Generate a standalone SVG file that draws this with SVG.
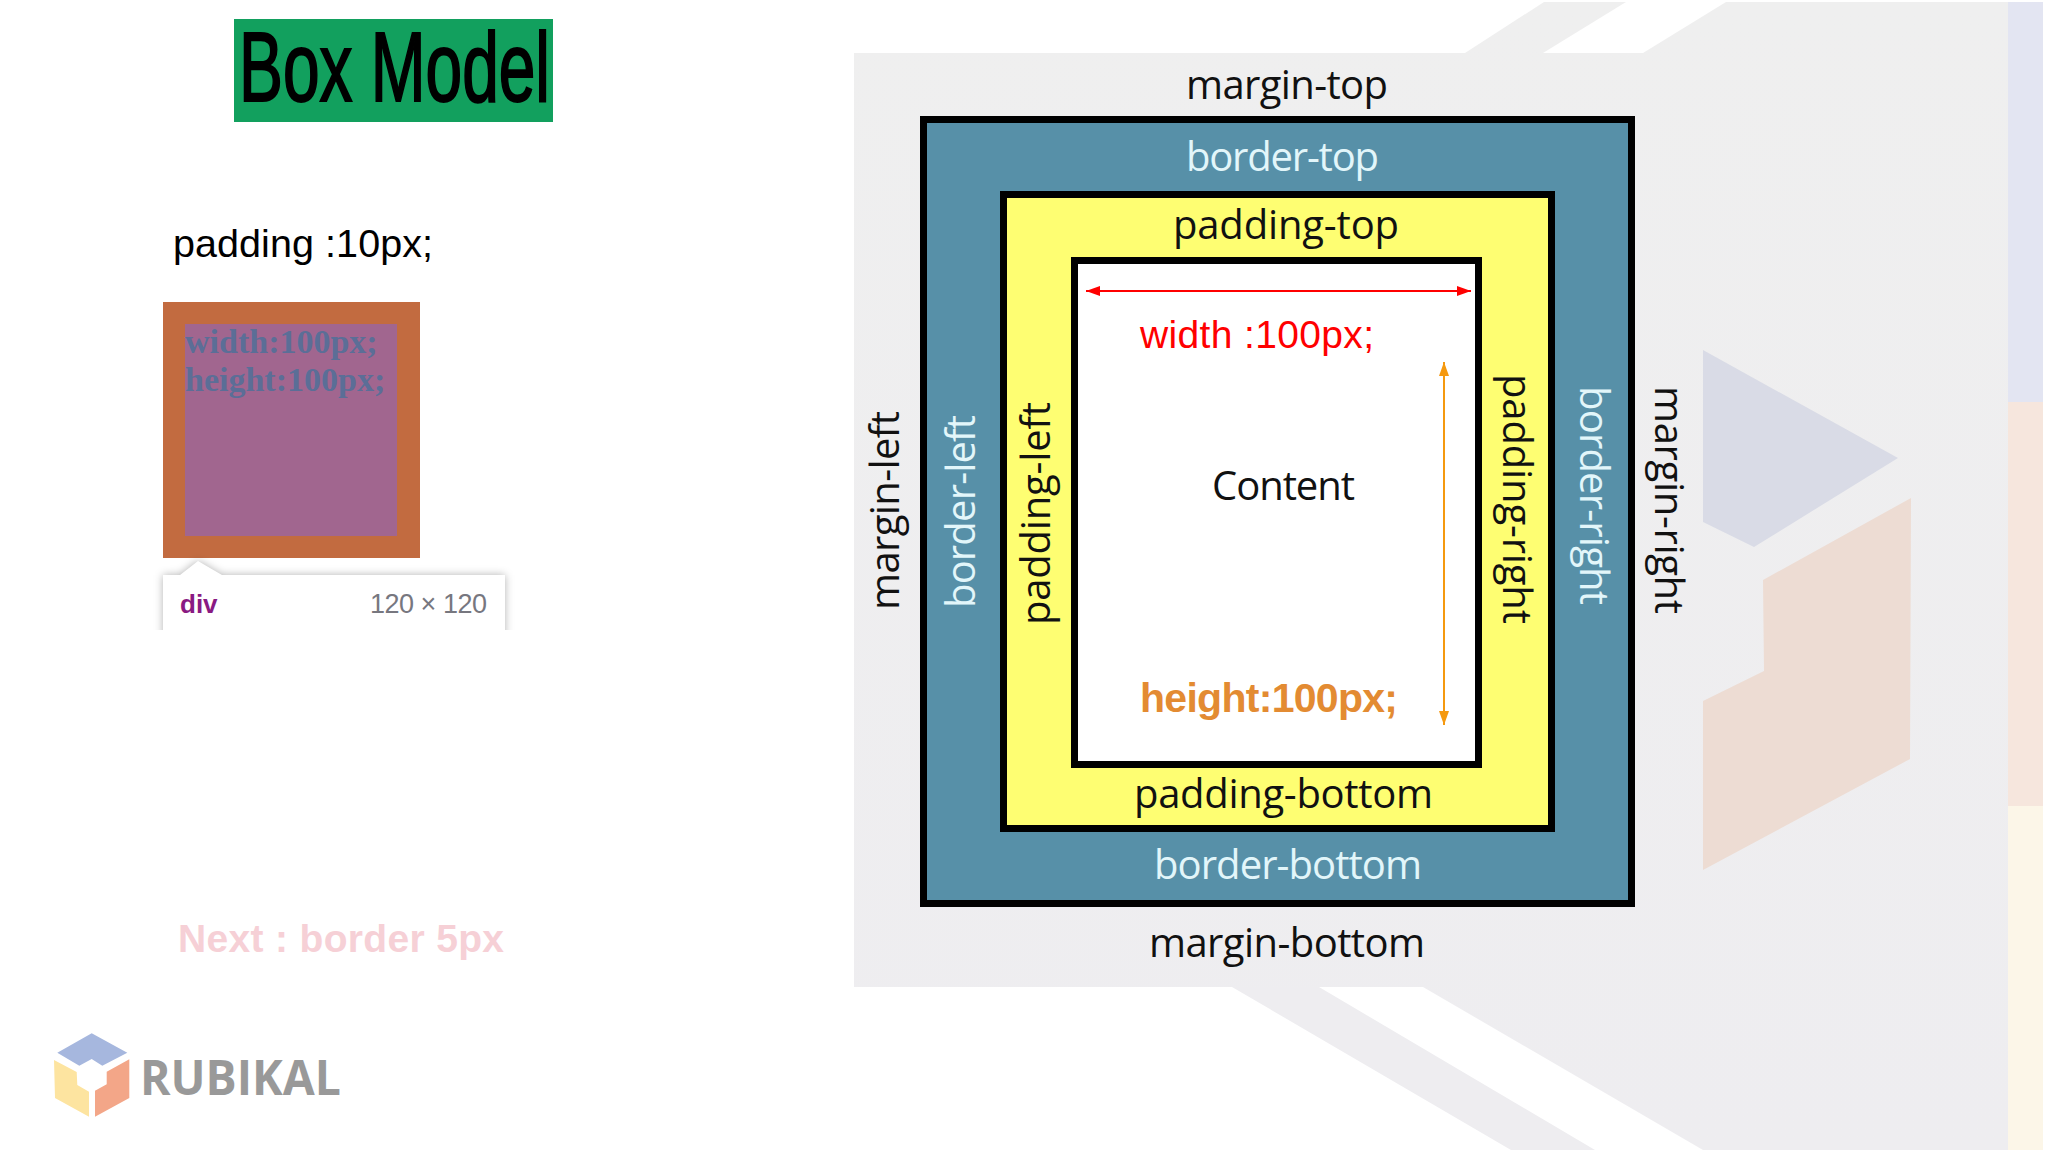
<svg xmlns="http://www.w3.org/2000/svg" width="2048" height="1152" viewBox="0 0 2048 1152">
<defs>
<style>
.l{font-family:"Open Sans","Noto Sans",sans-serif;font-size:40px;fill:#111}
.w{fill:#e2f6fa}
.a{font-family:"Liberation Sans",Arial,sans-serif}
.s{font-family:"Liberation Serif","Times New Roman",serif;font-weight:bold;font-size:34px;fill:#5b6e97}
.bx{stroke:#000;stroke-width:7}
</style>
<linearGradient id="gr" x1="0" y1="0" x2="0" y2="1"><stop offset="0" stop-color="#efefef"/><stop offset="1" stop-color="#eeedf0"/></linearGradient>
<marker id="ar" viewBox="0 0 14 10" refX="14" refY="5" markerWidth="14" markerHeight="10" markerUnits="userSpaceOnUse" orient="auto-start-reverse"><path d="M0 0L14 5L0 10Z" fill="#f00"/></marker>
<marker id="ao" viewBox="0 0 14 10" refX="14" refY="5" markerWidth="14" markerHeight="10" markerUnits="userSpaceOnUse" orient="auto-start-reverse"><path d="M0 0L14 5L0 10Z" fill="#f5990f"/></marker>
<filter id="sh" x="-10%" y="-20%" width="120%" height="140%"><feGaussianBlur stdDeviation="4"/></filter>
<clipPath id="cut"><rect x="130" y="550" width="400" height="80"/></clipPath>
</defs>
<rect width="2048" height="1152" fill="#fff"/>
<g id="background">
<path d="M854 53H1465L1544 2H1626L1543 53H1643L1726 2H2008V1150H1703L1423 987H854Z" fill="url(#gr)"/>
<path d="M1232 987H1319L1595 1150H1511Z" fill="#eeedf0"/>
<rect x="2008" y="2" width="35" height="400" fill="#e3e5f2"/>
<rect x="2008" y="402" width="35" height="404" fill="#f6e6dd"/>
<rect x="2008" y="806" width="35" height="344" fill="#fcf6e8"/>
<path d="M1703 350L1898 458L1754 547L1703 522Z" fill="#d9dbe6"/>
<path d="M1911 498L1763 580L1764 671L1703 701V870L1910 759Z" fill="#eddcd3"/>
</g>
<g id="title"><rect x="234" y="19" width="319" height="103" fill="#12a05e"/>
<text class="a" x="239" y="101" font-size="98" stroke="#000" stroke-width="2" textLength="311" lengthAdjust="spacingAndGlyphs" fill="#000">Box Model</text></g>
<g id="caption"><text class="a" x="173" y="257" font-size="39.500" fill="#000" textLength="260">padding :10px;</text></g>
<g id="sample">
<rect x="163" y="302" width="257" height="256" fill="#c26b40"/>
<rect x="185" y="324" width="212" height="212" fill="#a1668f"/>
<text class="s" x="185" y="353">width:100px;</text>
<text class="s" x="185" y="391">height:100px;</text>
</g>
<g id="tooltip">
<g clip-path="url(#cut)"><path d="M163 575H180L198 561L222 575H505V660H163Z" fill="#000" fill-opacity=".3" filter="url(#sh)"/>
<path d="M163 575H180L198 561L222 575H505V660H163Z" fill="#fff"/></g>
<text class="a" x="180" y="613" font-size="26" font-weight="bold" fill="#8a1a82">div</text>
<text class="a" x="370" y="613" font-size="27" fill="#77777f" textLength="117">120 × 120</text>
</g>
<g id="next"><text class="a" x="178" y="952" font-size="39" font-weight="bold" fill="#f6d0d6" textLength="326">Next : border 5px</text></g>
<g id="logo">
<path d="M91.700 1033.300L127.300 1052.700L102.300 1065.700L91.700 1059L79.300 1065.700L57.300 1052.700Z" fill="#a6b7de"/>
<path d="M54 1060L76.700 1072L77.300 1085L89 1091.700V1116.700L55 1098Z" fill="#fde4a0"/>
<path d="M129.300 1059.300V1098L95 1116.700V1090.700L106.700 1084.300V1071.700Z" fill="#f3a688"/>
<text x="140" y="1095" font-family="Open Sans,sans-serif" font-size="49" font-weight="bold" fill="#999" textLength="201" lengthAdjust="spacingAndGlyphs">RUBIKAL</text>
</g>
<g id="border-box"><rect class="bx" x="923.500" y="119.500" width="708" height="784" fill="#5790a8"/></g>
<g id="padding-box"><rect class="bx" x="1003.500" y="194.500" width="548" height="634" fill="#fefe72"/></g>
<g id="content-box"><rect class="bx" x="1074.500" y="260.500" width="404" height="504" fill="#fff"/></g>
<g id="connectors">
<line x1="1086" y1="291" x2="1471" y2="291" stroke="#f00" stroke-width="2" marker-start="url(#ar)" marker-end="url(#ar)"/>
<line x1="1444" y1="362" x2="1444" y2="725" stroke="#f5990f" stroke-width="2" marker-start="url(#ao)" marker-end="url(#ao)"/>
</g>
<g id="labels">
<text class="l" x="1186" y="99" textLength="202">margin-top</text>
<text class="l w" x="1186" y="171" textLength="193">border-top</text>
<text class="l" x="1173" y="239" textLength="226">padding-top</text>
<text class="a" x="1140" y="348" font-size="39" fill="#f00" textLength="234">width :100px;</text>
<text class="l" x="1212" y="500" textLength="143">Content</text>
<text class="a" x="1140" y="712" font-size="41" font-weight="bold" fill="#e38b32" textLength="258">height:100px;</text>
<text class="l" x="1134" y="808" textLength="299">padding-bottom</text>
<text class="l w" x="1154" y="879" textLength="268">border-bottom</text>
<text class="l" x="1149" y="957" textLength="276">margin-bottom</text>
<text class="l" transform="translate(899 610) rotate(-90)" textLength="199">margin-left</text>
<text class="l w" transform="translate(975 608) rotate(-90)" textLength="193">border-left</text>
<text class="l" transform="translate(1050 625) rotate(-90)" textLength="223">padding-left</text>
<text class="l" transform="translate(1503 374) rotate(90)" textLength="250">padding-right</text>
<text class="l w" transform="translate(1580 386) rotate(90)" textLength="219">border-right</text>
<text class="l" transform="translate(1655 386) rotate(90)" textLength="228">margin-right</text>
</g>
</svg>
